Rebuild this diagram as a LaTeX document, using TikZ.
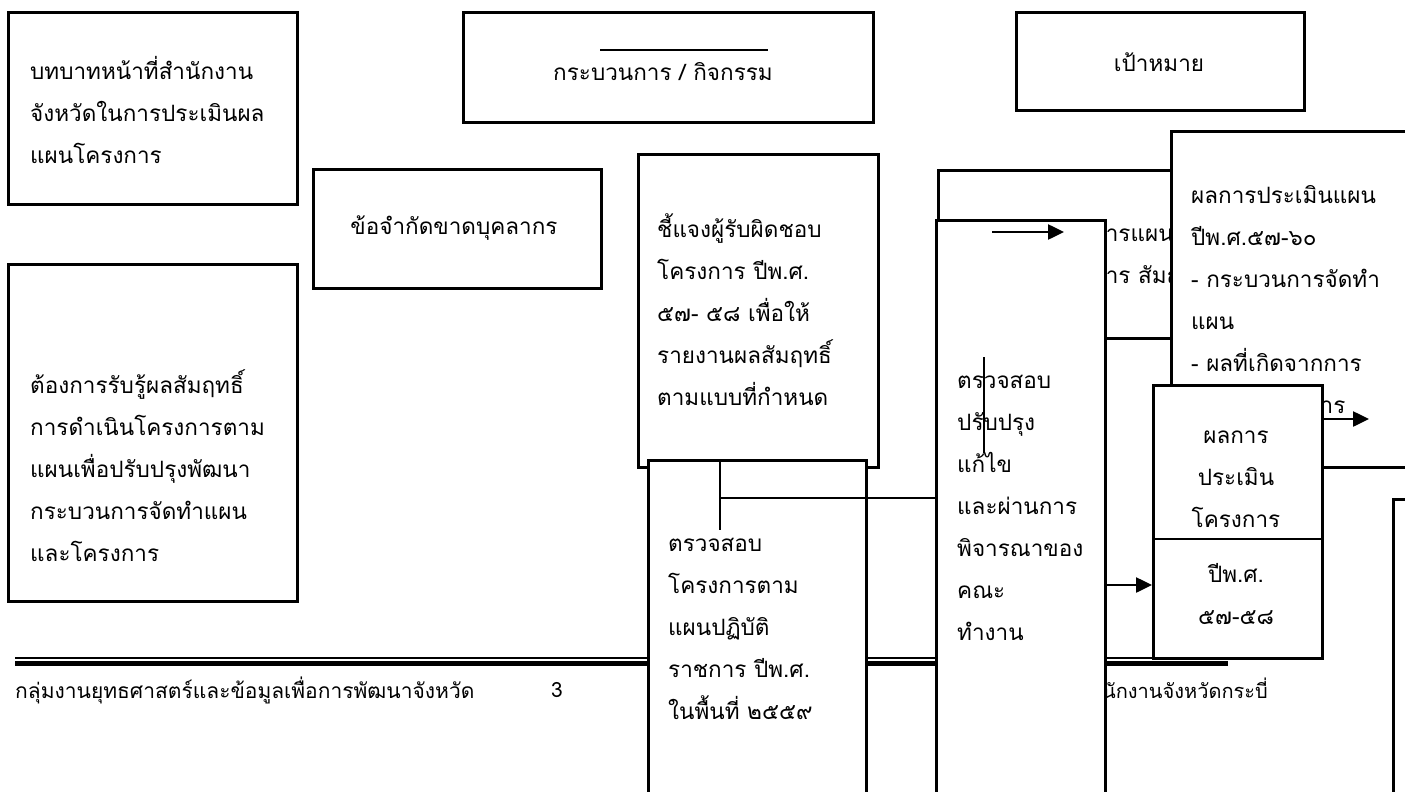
\documentclass[tikz,border=0pt]{standalone}
\usepackage{fontspec}
\newfontfamily\thaifont[Script=Thai]{Loma}
\usetikzlibrary{arrows.meta}

\begin{document}
\begin{tikzpicture}[x=1pt, y=-1pt,
    box/.style={draw, line width=2.8pt, fill=white, rectangle, anchor=north west, inner sep=0pt},
    txt/.style={font=\thaifont\fontsize{22.5}{42}\selectfont, align=left, anchor=west, inner sep=0pt},
    ctxt/.style={font=\thaifont\fontsize{22.5}{42}\selectfont, align=center, inner sep=0pt},
    ftxt/.style={font=\thaifont\fontsize{21}{24}\selectfont, inner sep=0pt},
    link/.style={line width=2.2pt},
    arr/.style={line width=2.5pt, -{Triangle[length=16pt, width=15pt]}}]

        \useasboundingbox (0,0) rectangle (1405,792);
        \clip (0,0) rectangle (1405,792);

        % footer
        \coordinate (f1) at (15,658);
        \coordinate (f2) at (1228,658);
        \coordinate (f3) at (15,663.5);
        \coordinate (f4) at (1228,663.5);
        \draw[line width=1.5pt] (f1) -- (f2);
        \draw[line width=5pt] (f3) -- (f4);
        \node[ftxt, anchor=west] (ft1) at (15,690) {กลุ่มงานยุทธศาสตร์และข้อมูลเพื่อการพัฒนาจังหวัด};
        \node[ftxt] (ft2) at (557,690) {3};
        \node[ftxt, anchor=east, font=\thaifont\fontsize{20}{24}\selectfont] (ft3) at (1268,688) {สำนักงานจังหวัดกระบี่};

        % left column
        \node[box, minimum width=289pt, minimum height=192pt] (bA) at (7,11) {};
        \node[txt] (tA) at (30,110) {บทบาทหน้าที่สำนักงาน\\จังหวัดในการประเมินผล\\แผนโครงการ};
        \node[box, minimum width=289pt, minimum height=337pt] (bE) at (7,263) {};
        \node[txt] (tE) at (30,466) {ต้องการรับรู้ผลสัมฤทธิ์\\การดำเนินโครงการตาม\\แผนเพื่อปรับปรุงพัฒนา\\กระบวนการจัดทำแผน\\และโครงการ};

        % headings
        \node[box, minimum width=410pt, minimum height=110pt] (bB) at (462,11) {};
        \node[ctxt] (tB) at (663,72) {กระบวนการ / กิจกรรม};
        \coordinate (oB1) at (600,50);
        \coordinate (oB2) at (768,50);
        \draw[link] (oB1) -- (oB2);
        \node[box, minimum width=288pt, minimum height=98pt] (bC) at (1015,11) {};
        \node[ctxt] (tC) at (1159,62) {เป้าหมาย};

        \node[box, minimum width=288pt, minimum height=119pt] (bD) at (312,168) {};
        \node[ctxt] (tD) at (454,228) {ข้อจำกัดขาดบุคลากร};

        % process
        \node[box, minimum width=240pt, minimum height=313pt] (bF) at (637,153) {};
        \node[txt] (tF) at (657,310) {ชี้แจงผู้รับผิดชอบ\\โครงการ ปีพ.ศ.\\๕๗- ๕๘ เพื่อให้\\รายงานผลสัมฤทธิ์\\ตามแบบที่กำหนด};
        \node[box, minimum width=218pt, minimum height=400pt] (bG) at (647,459) {};
        \node[txt] (tG) at (668,629) {ตรวจสอบ\\โครงการตาม\\แผนปฏิบัติ\\ราชการ ปีพ.ศ.\\ในพื้นที่ ๒๕๕๙};

        \node[box, minimum width=233pt, minimum height=168pt] (bI) at (937,169) {};
        \node[txt] (tI) at (1092,258) {การแผน\\การ สัมฤ};
        \node[box, minimum width=169pt, minimum height=600pt] (bH) at (935,219) {};
        \node[txt] (tH) at (957,508) {ตรวจสอบ\\ปรับปรุง\\แก้ไข\\และผ่านการ\\พิจารณาของ\\คณะ\\ทำงาน};

        \coordinate (j1) at (720,530);
        \coordinate (j2) at (720,498);
        \draw[link] (bG.north -| j1) -- (j1);
        \draw[link] (j2) -- (j2 -| bH.west);

        \coordinate (a1) at (992,232);
        \coordinate (a2) at (1064,232);
        \draw[arr] (a1) -- (a2);
        \coordinate (v1) at (984,357);
        \coordinate (v2) at (984,453);
        \draw[link] (v1) -- (v2);

        % goals
        \node[box, minimum width=260pt, minimum height=336pt] (bJ) at (1170,130) {};
        \node[txt] (tJ) at (1191,300) {ผลการประเมินแผน\\ปีพ.ศ.๕๗-๖๐\\- กระบวนการจัดทำ\\แผน\\- ผลที่เกิดจากการ\\ดำเนินโครงการ};
        \node[box, minimum width=169pt, minimum height=273pt] (bK) at (1152,384) {};
        \coordinate (k1) at (1152,539);
        \draw[line width=2.8pt] (k1) -- (k1 -| bK.east);
        \node[ctxt] (tK1) at (1236,479) {ผลการ\\ประเมิน\\โครงการ};
        \node[ctxt] (tK2) at (1236,594) {ปีพ.ศ.\\๕๗-๕๘};

        \coordinate (a3) at (1104,585);
        \draw[arr] (a3) -- (a3 -| bK.west);
        \coordinate (a4) at (1369,419);
        \draw[arr] (a4 -| bK.east) -- (a4);

        \node[box, minimum width=100pt, minimum height=400pt] (bL) at (1392,498) {};

\end{tikzpicture}
\end{document}
